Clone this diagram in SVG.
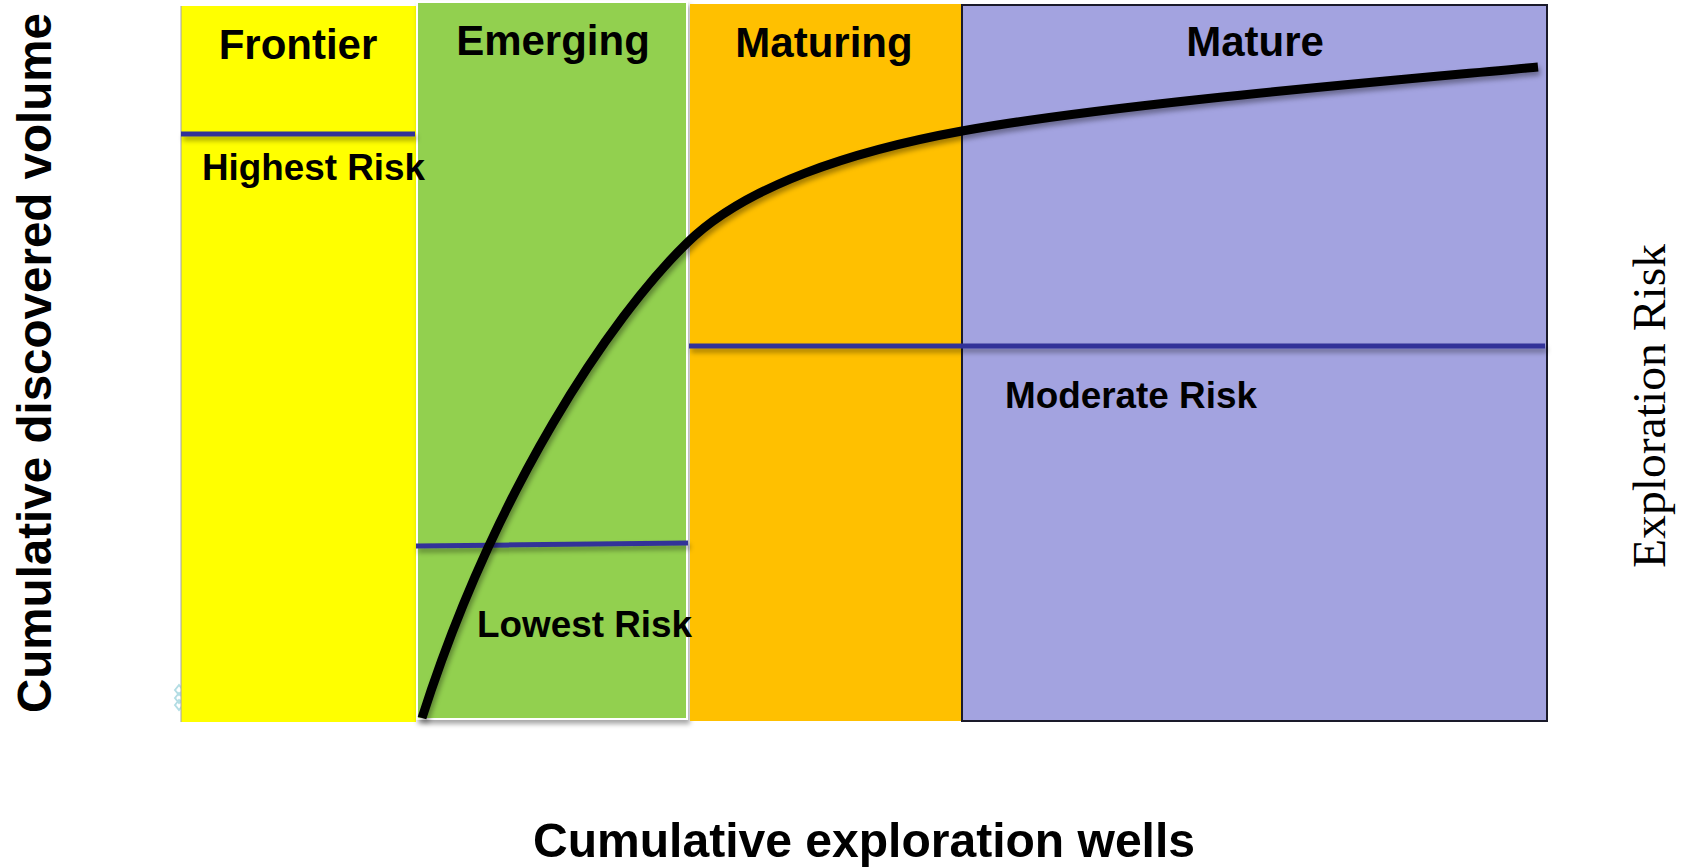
<svg xmlns="http://www.w3.org/2000/svg" width="1681" height="868" viewBox="0 0 1681 868">
<defs>
<style>
.ttl{font-family:"Liberation Sans",Arial,sans-serif;font-weight:bold;font-size:42px;fill:#000;text-anchor:middle}
.risk{font-family:"Liberation Sans",Arial,sans-serif;font-weight:bold;font-size:37px;fill:#000}
.axis{font-family:"Liberation Sans",Arial,sans-serif;font-weight:bold;font-size:48px;fill:#000;text-anchor:middle}
.rline{stroke:#333399;stroke-width:5;fill:none}
</style>
<filter id="sh" filterUnits="userSpaceOnUse" x="0" y="0" width="1681" height="868">
<feDropShadow dx="2" dy="4" stdDeviation="2.5" flood-color="#000" flood-opacity="0.35"/>
</filter>
</defs>
<rect width="1681" height="868" fill="#fff"/>
<g id="icon">
<path d="M175,690 l4,-5 l4,5 l-4,5 z M175,698 l4,-5 l4,5 l-4,5 z M175,705 l4,-5 l4,5 l-4,5 z" fill="none" stroke="#b3dde4" stroke-width="2"/>
</g>
<g id="frontier">
<rect x="181" y="6" width="235" height="716" fill="#ffff00"/>
<line x1="181" y1="6" x2="181" y2="722" stroke="#a0a0b0" stroke-width="1"/>
<text class="ttl" x="298" y="59">Frontier</text>
</g>
<g id="emerging">
<rect x="417" y="2" width="270" height="717" fill="#92d050" stroke="#ffffff" stroke-width="2" filter="url(#sh)"/>
<text class="ttl" x="553" y="55">Emerging</text>
</g>
<g id="maturing">
<rect x="690" y="4" width="271" height="717" fill="#ffc000"/>
<text class="ttl" x="824" y="57">Maturing</text>
</g>
<g id="mature">
<rect x="962" y="5" width="585" height="716" fill="#a3a3e0" stroke="#1a1a2a" stroke-width="2"/>
<text class="ttl" x="1255" y="56">Mature</text>
</g>
<g id="connectors">
<line class="rline" x1="181" y1="134" x2="415" y2="134" filter="url(#sh)"/>
<line class="rline" x1="416" y1="546" x2="688" y2="543" filter="url(#sh)"/>
<line class="rline" x1="689" y1="346" x2="1545" y2="346" filter="url(#sh)"/>
<path d="M422,718 C495,490 610,318 687,243 C745,186 852,151 962,131 C1112,104 1388,81 1538,67" fill="none" stroke="#000" stroke-width="9" filter="url(#sh)"/>
</g>
<g id="labels">
<text class="risk" x="202" y="180" textLength="223" lengthAdjust="spacingAndGlyphs">Highest Risk</text>
<text class="risk" x="477" y="637" textLength="215" lengthAdjust="spacingAndGlyphs">Lowest Risk</text>
<text class="risk" x="1005" y="408" textLength="252" lengthAdjust="spacingAndGlyphs">Moderate Risk</text>
<text class="axis" x="864" y="857" textLength="662" lengthAdjust="spacingAndGlyphs">Cumulative exploration wells</text>
<text class="axis" transform="translate(51,363) rotate(-90)" x="0" y="0" textLength="700" lengthAdjust="spacingAndGlyphs">Cumulative discovered volume</text>
<text transform="translate(1665,406) rotate(-90)" x="0" y="0" text-anchor="middle" font-family="'Liberation Serif','Times New Roman',serif" font-size="47" fill="#000" textLength="324" lengthAdjust="spacingAndGlyphs">Exploration Risk</text>
</g>
</svg>
